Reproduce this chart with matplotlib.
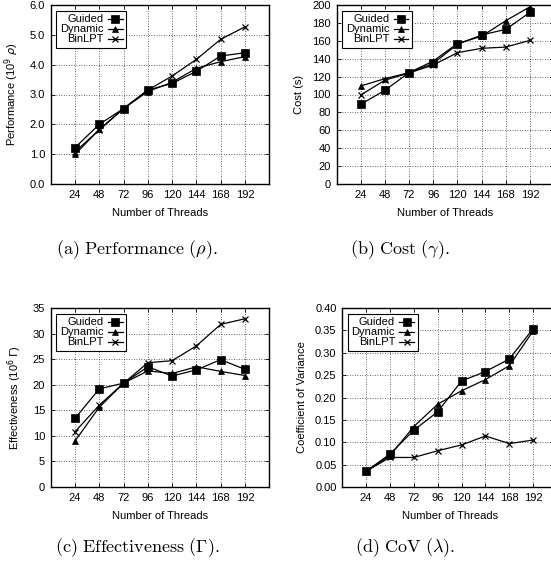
import matplotlib
matplotlib.use("Agg")
import matplotlib.pyplot as plt
from matplotlib.ticker import FormatStrFormatter

plt.rcParams['font.family'] = ['Liberation Sans', 'DejaVu Sans']
plt.rcParams['font.size'] = 8

threads = [24, 48, 72, 96, 120, 144, 168, 192]
series_names = ["Guided", "Dynamic", "BinLPT"]

perf_guided = [1.22, 2.00, 2.53, 3.15, 3.37, 3.78, 4.29, 4.40]
perf_dynamic = [0.99, 1.83, 2.53, 3.10, 3.41, 3.88, 4.10, 4.27]
perf_binlpt = [1.08, 1.81, 2.53, 3.15, 3.62, 4.18, 4.85, 5.27]

cost_guided = [89, 104.7, 124.4, 134.8, 156, 166.5, 172.8, 191.8]
cost_dynamic = [109.5, 117.7, 124.4, 137.4, 157, 165, 182.5, 198]
cost_binlpt = [99.4, 116, 124, 133, 146.7, 151.6, 153, 160.5]

eff_guided = [13.4, 19.2, 20.3, 23.5, 21.7, 22.9, 24.9, 23.0]
eff_dynamic = [9.0, 15.6, 20.3, 22.7, 22.2, 23.5, 22.6, 21.8]
eff_binlpt = [10.8, 16.0, 20.3, 24.3, 24.7, 27.6, 31.8, 32.9]

cov_guided = [0.035, 0.0735, 0.127, 0.168, 0.237, 0.258, 0.286, 0.354]
cov_dynamic = [0.035, 0.070, 0.135, 0.185, 0.215, 0.240, 0.271, 0.349]
cov_binlpt = [0.035, 0.066, 0.066, 0.081, 0.094, 0.114, 0.097, 0.105]

panels = [
    dict(data=[perf_guided, perf_dynamic, perf_binlpt], ylim=(0, 6), step=1.0, fmt='%.1f',
         ylabel=r'Performance (10$^9$ $\rho$)',
         caption=r'$\mathrm{(a)\ Performance\ (}\rho\mathrm{).}$',
         rect=[50.7, 5, 218.6, 179], cap_xy=(137, 250)),
    dict(data=[cost_guided, cost_dynamic, cost_binlpt], ylim=(0, 200), step=20, fmt='%d',
         ylabel='Cost (s)',
         caption=r'$\mathrm{(b)\ Cost\ (}\gamma\mathrm{).}$',
         rect=[336.5, 5, 217.7, 179], cap_xy=(400, 250)),
    dict(data=[eff_guided, eff_dynamic, eff_binlpt], ylim=(0, 35), step=5, fmt='%d',
         ylabel=r'Effectiveness (10$^6$ $\Gamma$)',
         caption=r'$\mathrm{(c)\ Effectiveness\ (\Gamma).}$',
         rect=[50.7, 308, 218.6, 179], cap_xy=(137, 548)),
    dict(data=[cov_guided, cov_dynamic, cov_binlpt], ylim=(0, 0.40), step=0.05, fmt='%.2f',
         ylabel='Coefficient of Variance',
         caption=r'$\mathrm{(d)\ CoV\ (}\lambda\mathrm{).}$',
         rect=[342.1, 308, 215, 179], cap_xy=(405, 548)),
]

W, H = 551, 569
DPI = 100
fig = plt.figure(figsize=(W / DPI, H / DPI), dpi=DPI)

markers = ['s', '^', 'x']
msizes = [6, 5, 5]

for p in panels:
    l, t, w, h = p['rect']
    ax = fig.add_axes([l / W, 1 - (t + h) / H, w / W, h / H])
    for vals, name, m, ms in zip(p['data'], series_names, markers, msizes):
        ax.plot(threads, vals, color='black', lw=0.9, marker=m, markersize=ms,
                markeredgewidth=0.9 if m == 'x' else 0.5, label=name)
    ax.set_xlim(0, 216)
    ax.set_ylim(*p['ylim'])
    ax.set_xticks(threads)
    n = int(round((p['ylim'][1] - p['ylim'][0]) / p['step']))
    ax.set_yticks([p['ylim'][0] + i * p['step'] for i in range(n + 1)])
    ax.yaxis.set_major_formatter(FormatStrFormatter(p['fmt']))
    ax.grid(True, color='#333333', linestyle=(0, (1, 2)), linewidth=0.6)
    ax.tick_params(direction='in', length=3, width=0.6, top=True, right=True, labelsize=8, pad=4)
    for s in ax.spines.values():
        s.set_linewidth(1.0)
    ax.set_xlabel('Number of Threads', fontsize=8, labelpad=6)
    ax.set_ylabel(p['ylabel'], fontsize=8, labelpad=6)
    leg = ax.legend(loc='upper left', markerfirst=False, fontsize=8, frameon=True,
                    fancybox=False, edgecolor='black', framealpha=1,
                    handlelength=1.3, handletextpad=0.4, labelspacing=0.0,
                    borderpad=0.35, borderaxespad=0.5)
    leg.get_frame().set_linewidth(0.8)
    cx, cy = p['cap_xy']
    fig.text(cx / W, 1 - cy / H, p['caption'], ha='center', va='center',
             fontsize=13, math_fontfamily='cm')

fig.savefig('out.png', dpi=DPI)
